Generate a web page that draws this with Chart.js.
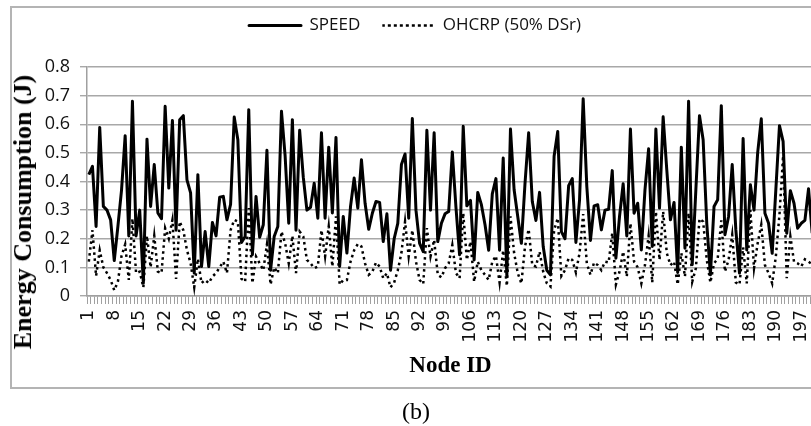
<!DOCTYPE html>
<html><head><meta charset="utf-8">
<style>
html,body{margin:0;padding:0;background:#fff;width:811px;height:426px;overflow:hidden}
#wrap{position:absolute;left:0;top:0;width:830px;height:426px}
#frame{position:absolute;left:10px;top:6px;width:830px;height:383px;border:2px solid #b4b4b4;box-sizing:border-box}
#cap{position:absolute;left:0;width:832px;top:398px;font:24px "Liberation Serif",serif;text-align:center;color:#000}
#ytitle{position:absolute;left:23px;top:212px;width:0;height:0}
#ytitle span{position:absolute;left:0;top:0;transform:translate(-50%,-50%) rotate(-90deg);white-space:nowrap;font:bold 26px "Liberation Serif",serif;color:#000}
canvas{position:absolute;left:0;top:0}
</style>
<script src="https://cdn.jsdelivr.net/npm/chart.js@4/dist/chart.umd.min.js"></script>
</head><body>
<div id="wrap"><div id="frame"></div><canvas id="c" width="830" height="426"></canvas></div>
<div id="ytitle"><span id="yt"></span></div>
<div id="cap">(b)</div>
<script>
const speed = [
.424,.453,.243,.589,.313,.30,.266,.124,.243,.37,.56,.21,.68,.21,.30,.045,.548,.313,.459,.29,.27,.663,.377,.613,.23,.616,.63,.406,.36,
.08,.424,.103,.225,.103,.257,.21,.345,.348,.266,.32,.625,.546,.187,.208,.651,.144,.348,.205,.249,.509,.09,.208,.243,.645,.49,.254,.616,
.23,.579,.415,.30,.31,.394,.272,.57,.272,.52,.29,.554,.103,.278,.15,.313,.412,.307,.476,.324,.233,.289,.33,.327,.19,.287,.09,.2,
.254,.459,.496,.272,.62,.30,.184,.155,.579,.30,.57,.19,.254,.287,.295,.503,.31,.144,.593,.315,.334,.126,.362,.319,.249,.16,.357,.41,
.16,.482,.07,.583,.371,.278,.184,.394,.57,.33,.264,.362,.173,.09,.074,.488,.575,.225,.2,.385,.41,.187,.336,.689,.383,.194,.315,.319,
.231,.30,.303,.438,.132,.278,.392,.21,.583,.289,.324,.161,.371,.514,.173,.583,.307,.626,.441,.266,.327,.082,.52,.167,.68,.109,.371,.63,
.546,.254,.074,.313,.336,.665,.214,.278,.459,.231,.08,.55,.161,.389,.30,.5,.619,.289,.254,.149,.371,.595,.54,.219,.368,.324,.237,.254,.264,.375,.22
];
const ohcrp = [
.12,.23,.07,.16,.10,.08,.056,.02,.05,.14,.18,.056,.27,.08,.085,.03,.21,.10,.21,.085,.08,.237,.20,.266,.06,.26,.23,.16,.115,
.03,.13,.045,.056,.045,.068,.08,.10,.12,.08,.23,.266,.26,.06,.05,.307,.045,.138,.114,.09,.18,.04,.10,.08,.225,.185,.114,.21,
.08,.225,.208,.126,.114,.097,.103,.23,.138,.243,.103,.278,.04,.056,.056,.12,.16,.182,.173,.114,.074,.085,.117,.103,.062,.08,.03,.047,
.09,.15,.26,.138,.23,.12,.056,.042,.237,.138,.196,.074,.065,.097,.114,.178,.08,.062,.29,.126,.19,.05,.12,.09,.074,.056,.12,.14,
.047,.16,.035,.278,.15,.08,.044,.173,.233,.108,.103,.155,.085,.044,.033,.23,.272,.07,.09,.132,.126,.082,.15,.286,.114,.074,.117,.108,
.09,.12,.117,.22,.04,.085,.155,.068,.254,.12,.10,.044,.108,.21,.047,.295,.126,.295,.15,.108,.12,.04,.15,.068,.29,.05,.097,.27,
.26,.126,.047,.114,.13,.264,.085,.126,.214,.047,.04,.17,.044,.30,.097,.184,.249,.108,.08,.044,.138,.284,.49,.062,.208,.12,.114,.103,.128,.12,.11
];
const nodeIds = speed.map((_, i) => String(i + 1));
const yTicks = [0, .1, .2, .3, .4, .5, .6, .7, .8];
const seriesNames = ['SPEED', 'OHCRP (50% DSr)'];
const xTitle = 'Node ID';
const yTitle = 'Energy Consumption (J)';
document.getElementById('yt').textContent = yTitle;

const legendSpace = {
  id: 'legendSpace',
  beforeLayout(chart) {
    const l = chart.legend;
    if (l && !l._patched) {
      const fit = l.fit;
      l.fit = function () { fit.call(this); this.height = 72; };
      l._patched = true;
    }
  }
};

new Chart(document.getElementById('c'), {
  type: 'line',
  plugins: [legendSpace],
  data: { labels: nodeIds, datasets: [
    { label: seriesNames[0], data: speed, borderColor: '#000', backgroundColor: 'transparent', borderWidth: 3, pointRadius: 0, tension: 0, borderJoinStyle: 'round' },
    { label: seriesNames[1], data: ohcrp, borderColor: '#000', backgroundColor: 'transparent', borderWidth: 2.5, borderDash: [2.5, 3.5], pointRadius: 0, tension: 0 }
  ]},
  options: {
    responsive: false, animation: false, devicePixelRatio: 1,
    layout: { padding: { left: 16, right: 16, top: -5, bottom: 46 } },
    plugins: {
      tooltip: { enabled: false },
      legend: { position: 'top', labels: { boxWidth: 52, boxHeight: 0, font: { family: '"Open Sans"', size: 17 }, color: '#111', padding: 22 } }
    },
    scales: {
      x: {
        offset: true,
        grid: { offset: true, drawOnChartArea: false, color: '#a0a0a0', tickLength: 8, tickWidth: 1 },
        border: { color: '#a0a0a0', width: 1.5 },
        ticks: { autoSkip: false, minRotation: 90, maxRotation: 90, padding: 6, color: '#111',
          font: { family: '"DejaVu Sans"', size: 17 },
          callback(v, i) { return i % 7 === 0 ? this.getLabelForValue(v) : ''; } },
        title: { display: true, text: xTitle, color: '#000', padding: { top: 4, bottom: 0 },
          font: { family: '"Liberation Serif"', weight: 'bold', size: 23 } },
        afterFit(s) { s.height = 84; s.paddingLeft = 0; s.paddingRight = 0; }
      },
      y: {
        min: 0, max: .8,
        afterBuildTicks(s) { s.ticks = yTicks.map(v => ({ value: v })); },
        grid: { color: '#a8a8a8', lineWidth: 1.4, tickLength: 7 },
        border: { color: '#a0a0a0', width: 1.5 },
        ticks: { padding: 10, color: '#111', font: { family: '"Open Sans"', size: 18 },
          callback(v) { return v === 0 ? '0' : String(v); } },
        afterFit(s) { s.width = 71; }
      }
    }
  }
});
</script>
</body></html>
